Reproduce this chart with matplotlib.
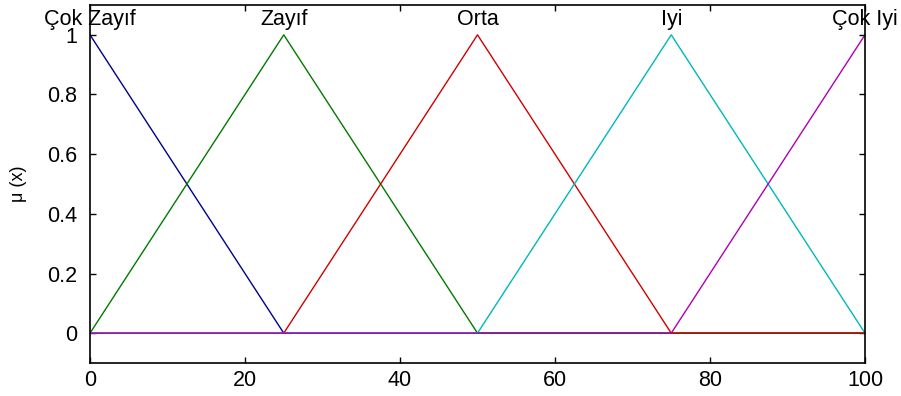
import numpy as np
import matplotlib
matplotlib.use("Agg")
import matplotlib.pyplot as plt

plt.rcParams['font.family'] = ['Liberation Sans', 'DejaVu Sans']

# Triangular membership functions over the universe [0, 100]
x_range = [0, 100]
mf_names = ["Çok Zayıf", "Zayıf", "Orta", "Iyi", "Çok Iyi"]
mf_params = [
    [-25, 0, 25],
    [0, 25, 50],
    [25, 50, 75],
    [50, 75, 100],
    [75, 100, 125],
]
mf_colors = ["#00008f", "#007a00", "#d00000", "#00b8b8", "#b000b0"]
x_ticks = [0, 20, 40, 60, 80, 100]
y_ticks = [0, 0.2, 0.4, 0.6, 0.8, 1.0]
y_tick_labels = ["0", "0.2", "0.4", "0.6", "0.8", "1"]


def trimf(x, a, b, c):
    left = (x - a) / (b - a)
    right = (c - x) / (c - b)
    return np.clip(np.minimum(left, right), 0, 1)


fig = plt.figure(figsize=(9.01, 3.96), dpi=100)
ax = fig.add_axes([90 / 901, 33 / 396, 775 / 901, 358 / 396])

xs = np.linspace(x_range[0], x_range[1], 401)
for name, p, col in zip(mf_names, mf_params, mf_colors):
    ys = trimf(xs, *p)
    ax.plot(xs, ys, color=col, lw=1.0)
    ax.text(p[1], 1.032, name, ha="center", va="baseline", fontsize=15.5,
            color="black", clip_on=False)

ax.set_xlim(*x_range)
ax.set_ylim(-0.1, 1.1)
ax.set_xticks(x_ticks)
ax.set_xticklabels([str(t) for t in x_ticks])
ax.set_yticks(y_ticks)
ax.set_yticklabels(y_tick_labels)
ax.tick_params(direction="in", length=4.5, width=1, top=True, right=True,
               labelsize=15.5)
ax.tick_params(axis="x", pad=5)
ax.tick_params(axis="y", pad=9)
for s in ax.spines.values():
    s.set_linewidth(1.2)
ax.set_ylabel("μ (x)", fontsize=13)
ax.yaxis.set_label_coords(-63 / 775, 0.5)

fig.savefig("out.png", dpi=100)
